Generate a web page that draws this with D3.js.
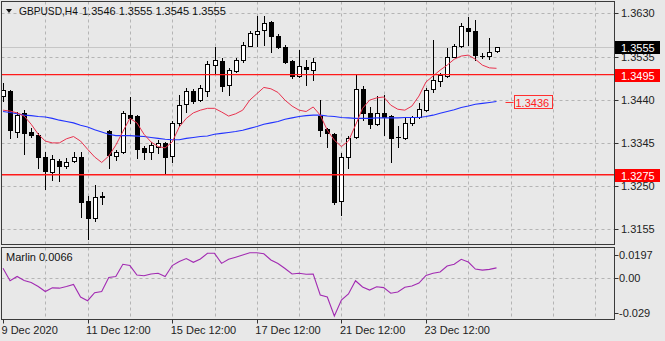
<!DOCTYPE html>
<html><head><meta charset="utf-8">
<script src="https://cdn.jsdelivr.net/npm/d3@7"></script>
<style>
body{margin:0;background:#e8e8e8}
svg{display:block}
text{font-family:"Liberation Sans",Arial,sans-serif}
</style>
</head><body>
<svg id="c" width="665" height="341"></svg>
<script>
// ---------- DATA ----------
const symbolTitle = "GBPUSD,H4";
const titleValues = "1.3546 1.3555 1.3545 1.3555";
const timeLabels = ["9 Dec 2020", "11 Dec 12:00", "15 Dec 12:00", "17 Dec 12:00", "21 Dec 12:00", "23 Dec 12:00"];
const timeLabelBars = [0, 12, 24, 36, 48, 60];
const priceTicks = [1.3630, 1.3535, 1.3440, 1.3345, 1.3250, 1.3155];
const levelLines = [1.3495, 1.3275];
const bidPrice = 1.3555;
const oscTicks = [0.0197, 0.00, -0.029];
const oscTickLabels = ["0.0197", "0.00", "-0.029"];
const oscName = "Marlin 0.0066";

const open = [1.3448,1.3460,1.3370,1.3411,1.3369,1.3362,1.3315,1.3282,1.3305,1.3294,
1.3305,1.3315,1.3217,1.3179,1.3226,1.3372,1.3317,1.3324,1.3407,1.3404,
1.3333,1.3325,1.3337,1.3344,1.3316,1.3388,1.3430,1.3460,1.3439,1.3459,
1.3516,1.3526,1.3472,1.3504,1.3527,1.3559,1.3585,1.3593,1.3610,1.3579,
1.3556,1.3525,1.3493,1.3512,1.3505,1.3405,1.3375,1.3365,1.3218,1.3315,
1.3357,1.3463,1.3410,1.3387,1.3410,1.3404,1.3358,1.3356,1.3388,1.3401,
1.3418,1.3463,1.3482,1.3492,1.3535,1.3557,1.3597,1.3590,1.3537,1.3536,
1.3546];
const high = [1.3477,1.3461,1.3413,1.3417,1.3378,1.3367,1.3326,1.3318,1.3310,1.3312,
1.3325,1.3324,1.3228,1.3252,1.3237,1.3373,1.3329,1.3415,1.3447,1.3406,
1.3338,1.3347,1.3351,1.3348,1.3394,1.3450,1.3466,1.3463,1.3472,1.3525,
1.3555,1.3532,1.3510,1.3532,1.3567,1.3590,1.3624,1.3624,1.3612,1.3585,
1.3560,1.3527,1.3549,1.3527,1.3531,1.3440,1.3377,1.3366,1.3323,1.3360,
1.3495,1.3470,1.3424,1.3448,1.3450,1.3406,1.3382,1.3403,1.3404,1.3432,
1.3466,1.3571,1.3498,1.3553,1.3562,1.3608,1.3622,1.3615,1.3542,1.3575,
1.3555];
const low = [1.3437,1.3356,1.3358,1.3321,1.3358,1.3290,1.3243,1.3263,1.3262,1.3290,
1.3304,1.3182,1.3133,1.3174,1.3210,1.3290,1.3307,1.3323,1.3389,1.3311,
1.3310,1.3310,1.3323,1.3279,1.3302,1.3382,1.3412,1.3433,1.3438,1.3448,
1.3499,1.3459,1.3451,1.3501,1.3524,1.3558,1.3559,1.3560,1.3545,1.3554,
1.3520,1.3488,1.3491,1.3472,1.3483,1.3360,1.3335,1.3210,1.3186,1.3290,
1.3356,1.3395,1.3377,1.3384,1.3362,1.3304,1.3337,1.3354,1.3384,1.3399,
1.3415,1.3458,1.3470,1.3490,1.3533,1.3555,1.3560,1.3527,1.3532,1.3530,
1.3545];
const close = [1.3461,1.3373,1.3406,1.3367,1.3362,1.3314,1.3283,1.3310,1.3295,1.3304,
1.3313,1.3215,1.3179,1.3226,1.3228,1.3318,1.3324,1.3410,1.3400,1.3332,
1.3324,1.3340,1.3344,1.3315,1.3388,1.3428,1.3460,1.3437,1.3465,1.3518,
1.3527,1.3470,1.3506,1.3527,1.3560,1.3586,1.3592,1.3608,1.3579,1.3556,
1.3524,1.3493,1.3514,1.3508,1.3523,1.3373,1.3366,1.3215,1.3314,1.3355,
1.3463,1.3411,1.3387,1.3410,1.3403,1.3355,1.3359,1.3388,1.3401,1.3419,
1.3461,1.3483,1.3494,1.3535,1.3557,1.3601,1.3590,1.3538,1.3536,1.3545,
1.3555];
const maFast = [1.3417,1.3415,1.3411,1.3404,1.3386,1.3364,1.3349,1.3345,1.3345,1.3354,
1.3359,1.3349,1.3331,1.3314,1.3302,1.3316,1.3340,1.3370,1.3399,1.3389,
1.3364,1.3347,1.3337,1.3334,1.3347,1.3380,1.3399,1.3411,1.3417,1.3421,
1.3421,1.3413,1.3404,1.3409,1.3417,1.3439,1.3453,1.3467,1.3464,1.3456,
1.3439,1.3426,1.3417,1.3414,1.3424,1.3406,1.3373,1.3351,1.3337,1.3349,
1.3384,1.3421,1.3439,1.3444,1.3446,1.3428,1.3419,1.3417,1.3426,1.3448,
1.3479,1.3492,1.3505,1.3516,1.3529,1.3536,1.3538,1.3529,1.3516,1.3510,
1.3509];
const maSlow = [1.3414,1.3412,1.3409,1.3406,1.3405,1.3403,1.3402,1.3399,1.3395,1.3392,
1.3389,1.3384,1.3380,1.3374,1.3369,1.3364,1.3361,1.3361,1.3361,1.3360,
1.3359,1.3357,1.3355,1.3353,1.3352,1.3352,1.3355,1.3357,1.3359,1.3360,
1.3364,1.3366,1.3368,1.3370,1.3373,1.3377,1.3381,1.3386,1.3389,1.3392,
1.3397,1.3400,1.3403,1.3405,1.3406,1.3406,1.3404,1.3403,1.3401,1.3400,
1.3399,1.3399,1.3399,1.3400,1.3400,1.3400,1.3400,1.3401,1.3401,1.3401,
1.3403,1.3406,1.3410,1.3414,1.3418,1.3423,1.3426,1.3430,1.3432,1.3434,
1.3436];
const marlin = [0.0063,-0.0022,0.0007,-0.0021,-0.0034,-0.0062,-0.0096,-0.0071,-0.0073,-0.0062,
-0.0048,-0.0134,-0.0159,-0.0104,-0.0096,0.0000,0.0007,0.0091,0.0082,0.0017,
0.0012,0.0024,0.0029,0.0007,0.0082,0.0110,0.0130,0.0104,0.0127,0.0166,
0.0166,0.0097,0.0125,0.0139,0.0154,0.0170,0.0170,0.0163,0.0120,0.0096,
0.0062,0.0024,0.0029,0.0022,0.0024,-0.0120,-0.0134,-0.0264,-0.0154,-0.0113,
-0.0022,-0.0065,-0.0086,-0.0063,-0.0069,-0.0108,-0.0099,-0.0067,-0.0058,-0.0038,
0.0014,0.0029,0.0038,0.0079,0.0091,0.0125,0.0106,0.0058,0.0051,0.0056,
0.0066];

// ---------- LAYOUT ----------
const bg = '#e8e8e8';
const M = {l:1.5, t:1.5, r:614.5, b:244.5};
const S = {l:1.5, t:247.5, r:614.5, b:319.5};
const svg = d3.select('#c');
svg.append('rect').attr('width',665).attr('height',341).attr('fill',bg);

const x = d3.scaleLinear().domain([0,70]).range([3,496.5]);
const y = d3.scaleLinear().domain([1.3630,1.3155]).range([13.3,229.3]);
const ym = d3.scaleLinear().domain([-0.029,0.0197]).range([319.8,248.8]);
const px = v => Math.round(v) + 0.5;
const gridCol = '#b4b4b4';

svg.append('clipPath').attr('id','cm').append('rect')
  .attr('x',M.l).attr('y',M.t).attr('width',M.r-M.l).attr('height',M.b-M.t);
svg.append('clipPath').attr('id','cs').append('rect')
  .attr('x',S.l).attr('y',S.t).attr('width',S.r-S.l).attr('height',S.b-S.t);

const gm = svg.append('g').attr('clip-path','url(#cm)');
const gs = svg.append('g').attr('clip-path','url(#cs)');

// vertical grid
const vgrid = d3.range(6, 90, 6);
[[gm,M],[gs,S]].forEach(([g,P]) => {
  g.selectAll(null).data(vgrid).join('line')
    .attr('x1',d=>px(x(d))).attr('x2',d=>px(x(d)))
    .attr('y1',P.t).attr('y2',P.b)
    .attr('stroke',gridCol).attr('stroke-dasharray','3,3');
});
// horizontal grid
gm.selectAll(null).data(priceTicks).join('line')
  .attr('x1',M.l).attr('x2',M.r)
  .attr('y1',d=>px(y(d))).attr('y2',d=>px(y(d)))
  .attr('stroke',gridCol).attr('stroke-dasharray','3,3');
gs.append('line').attr('x1',S.l).attr('x2',S.r)
  .attr('y1',px(ym(0))).attr('y2',px(ym(0)))
  .attr('stroke',gridCol).attr('stroke-dasharray','3,3');

// bid line
gm.append('line').attr('x1',M.l).attr('x2',M.r)
  .attr('y1',px(y(bidPrice))).attr('y2',px(y(bidPrice)))
  .attr('stroke','#c6c6c6');

// candles
const bars = open.map((o,i)=>({i,o,h:high[i],l:low[i],c:close[i]}));
const cg = gm.append('g');
bars.forEach(b => {
  const X = Math.round(x(b.i));
  cg.append('line').attr('x1',X+0.5).attr('x2',X+0.5)
    .attr('y1',Math.round(y(b.h))).attr('y2',Math.round(y(b.l))+1)
    .attr('stroke','#000');
  const top = Math.round(y(Math.max(b.o,b.c)));
  const bot = Math.round(y(Math.min(b.o,b.c)));
  if (bot - top < 1) {
    cg.append('line').attr('x1',X-2).attr('x2',X+3)
      .attr('y1',top+0.5).attr('y2',top+0.5).attr('stroke','#000');
  } else {
    cg.append('rect').attr('x',X-1.5).attr('width',4)
      .attr('y',top+0.5).attr('height',bot-top)
      .attr('fill', b.c >= b.o ? '#ffffff' : '#000000')
      .attr('stroke','#000');
  }
});

// moving averages
const line = d3.line().x((d,i)=>x(i)).y(d=>y(d));
gm.append('path').attr('d',line(maSlow)).attr('fill','none')
  .attr('stroke','#2233ff').attr('stroke-width',1.1);
gm.append('path').attr('d',line(maFast)).attr('fill','none')
  .attr('stroke','#e8324e').attr('stroke-width',1);

// level lines
levelLines.forEach(v => {
  gm.append('line').attr('x1',M.l).attr('x2',M.r)
    .attr('y1',y(v)).attr('y2',y(v))
    .style('stroke','#ff1a1a').style('stroke-width','1.3px');
});

// oscillator
const oline = d3.line().x((d,i)=>x(i)).y(d=>ym(d));
gs.append('path').attr('d',oline(marlin)).attr('fill','none')
  .attr('stroke','#a22bb2').attr('stroke-width',1.1);

// panel borders
[M,S].forEach(P => svg.append('rect').attr('x',P.l).attr('y',P.t)
  .attr('width',P.r-P.l).attr('height',P.b-P.t)
  .attr('fill','none').attr('stroke','#3a3a3a'));

// right axis (main)
const fs = 11;
priceTicks.forEach(p => {
  const yy = px(y(p));
  svg.append('line').attr('x1',614.5).attr('x2',618.5).attr('y1',yy).attr('y2',yy).attr('stroke','#333');
  svg.append('text').attr('x',621).attr('y',y(p)+4).attr('font-size',fs).attr('fill','#222').text(p.toFixed(4));
});

// axis boxes
function axisBox(val, fill, txtCol){
  const yy = y(val);
  svg.append('rect').attr('x',615).attr('y',Math.round(yy)-6).attr('width',45).attr('height',13).attr('fill',fill);
  svg.append('text').attr('x',621).attr('y',Math.round(yy)+4.5).attr('font-size',fs).attr('fill',txtCol).text(val.toFixed(4));
}
axisBox(bidPrice,'#000000','#ffffff');
levelLines.forEach(v => axisBox(v,'#ff0000','#ffffff'));

// MA value label
const lastY = y(maSlow[maSlow.length-1]);
const lx = x(70) + 9;
svg.append('line').attr('x1',lx).attr('x2',lx+8).attr('y1',Math.round(lastY)+0.5).attr('y2',Math.round(lastY)+0.5).attr('stroke','#ff3030');
const lt = svg.append('text').attr('x',lx+10).attr('y',Math.round(lastY)+4.5).attr('font-size',fs).attr('fill','#ff2020')
  .text(maSlow[maSlow.length-1].toFixed(4));
const bb = lt.node().getBBox();
svg.insert('rect', 'text').attr('x',Math.round(lx+8)+0.5).attr('y',Math.round(lastY)-6.5)
  .attr('width',Math.round(bb.width)+4).attr('height',13).attr('fill',bg).attr('stroke','#ff3030');
lt.raise();

// osc axis
const oscOffsets = [6.5, 0, -7];
oscTicks.forEach((v,k) => {
  const yy = ym(v) + oscOffsets[k];
  svg.append('line').attr('x1',614.5).attr('x2',618.5).attr('y1',px(yy)).attr('y2',px(yy)).attr('stroke','#333');
  svg.append('text').attr('x',619).attr('y',yy+4).attr('font-size',fs).attr('fill','#222').text(oscTickLabels[k]);
});

// time axis
timeLabelBars.forEach((b,k) => {
  const xx = px(x(b));
  svg.append('line').attr('x1',xx).attr('x2',xx).attr('y1',319.5).attr('y2',323.5).attr('stroke','#333');
  svg.append('text').attr('x',x(b)-1.5).attr('y',334).attr('font-size',fs).attr('fill','#222').text(timeLabels[k]);
});

// titles
svg.append('path').attr('d','M6,9 L12,9 L9,13 Z').attr('fill','#111');
svg.append('text').attr('x',19).attr('y',15).attr('font-size',10.2).attr('fill','#111').text(symbolTitle);
svg.append('text').attr('x',82).attr('y',15).attr('font-size',fs).attr('fill','#111').text(titleValues);
svg.append('text').attr('x',6).attr('y',261).attr('font-size',fs).attr('fill','#111').text(oscName);
</script>
</body></html>
